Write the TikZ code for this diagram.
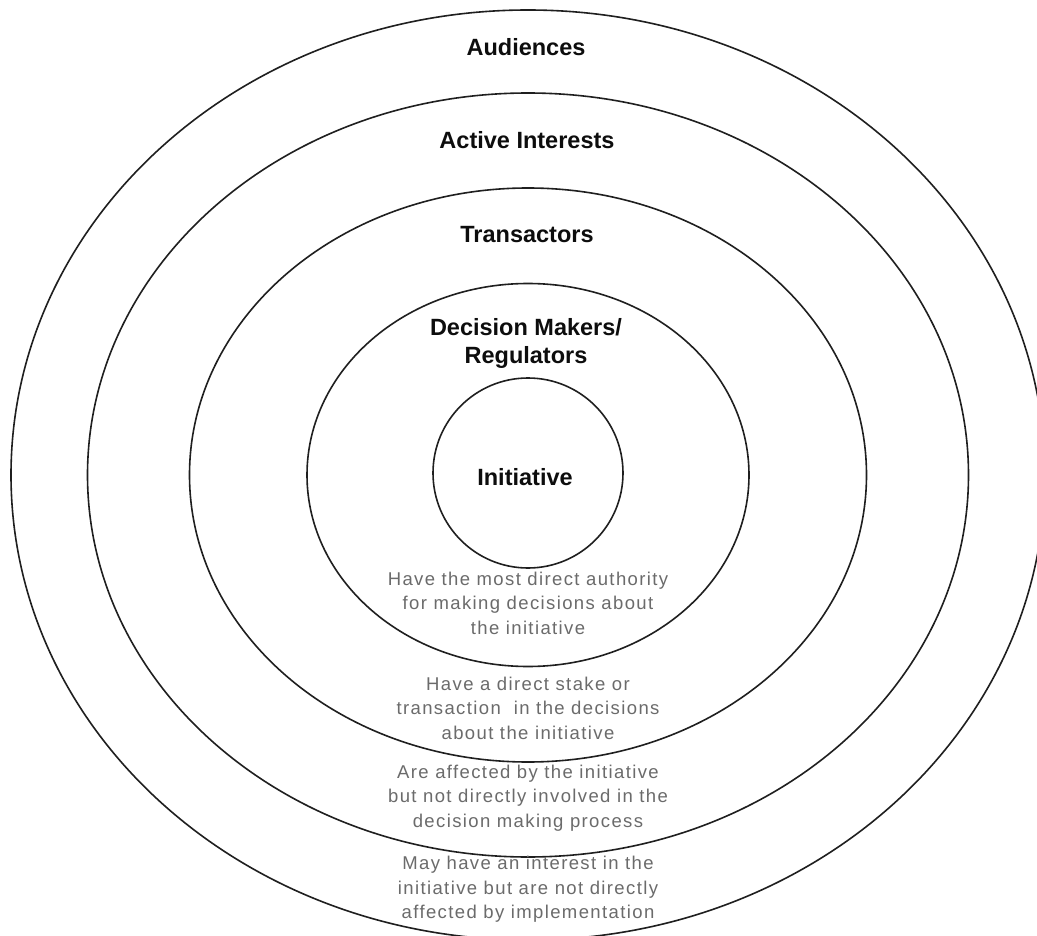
\documentclass[tikz,border=0pt]{standalone}
\usepackage{fontspec}
\setmainfont{Liberation Sans}
\newfontfamily\descfont[LetterSpace=7.5]{Liberation Sans}
\begin{document}
\begin{tikzpicture}[x=1pt,y=-1pt,
  ring/.style={draw=black!88, line width=1.6pt},
  title/.style={font=\fontsize{23.5}{28}\selectfont\bfseries, text=black!95, align=center, inner sep=0pt},
  desc/.style={font=\descfont\fontsize{18.5}{24.5}\selectfont, text=black!58, align=center, inner sep=0pt}]
\useasboundingbox (0,0) rectangle (1037,936);
\clip (0,0) rectangle (1037,936);
\fill[white] (0,0) rectangle (1037,936);
\coordinate (c) at (528,475);
% rings
\draw[ring] (c) ellipse [x radius=517, y radius=465];
\draw[ring] (c) ellipse [x radius=440.5, y radius=382];
\draw[ring] (c) ellipse [x radius=338.5, y radius=287];
\draw[ring] (c) ellipse [x radius=221, y radius=191.5];
\draw[ring] (528,473) circle [radius=95];
% titles
\node[title] (aud) at (526,47) {Audiences};
\node[title] (act) at (527,140) {Active Interests};
\node[title] (tra) at (527,235) {Transactors};
\node[title] (dec) at (526,343) {Decision Makers/\\Regulators};
\node[title] (ini) at (525,477) {Initiative};
% descriptions
\node[desc] (d1) at (528,603) {Have the most direct authority\\for making decisions about\\the initiative};
\node[desc] (d2) at (528,708) {Have a direct stake or\\transaction\ \ in the decisions\\about the initiative};
\node[desc] (d3) at (528,798) {Are affected by the initiative\\but not directly involved in the\\decision making process};
\node[desc] (d4) at (528,889.5) {May have an interest in the\\initiative but are not directly\\affected by implementation};
\end{tikzpicture}
\end{document}
